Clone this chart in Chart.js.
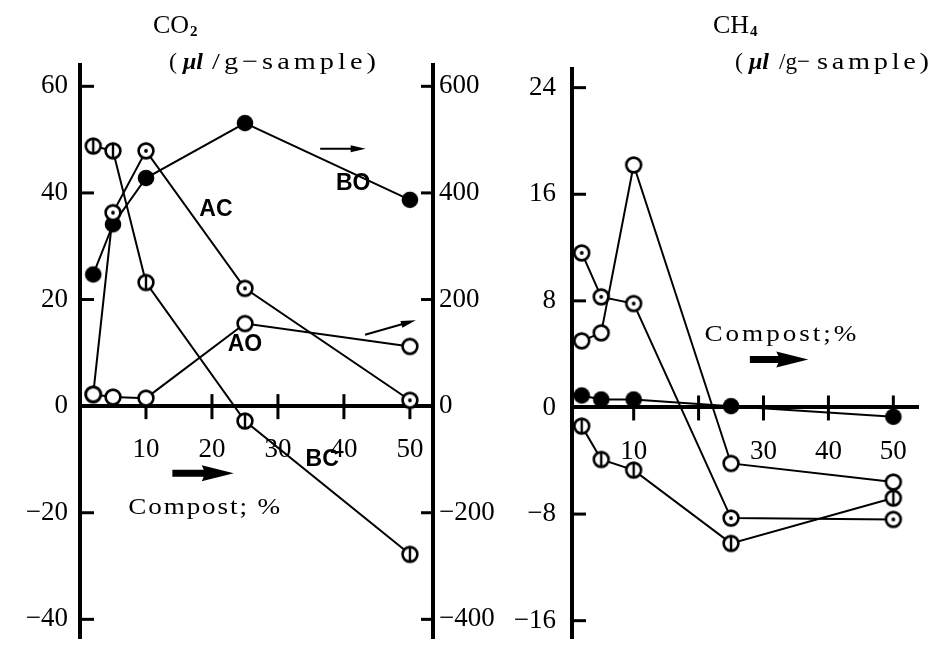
<!DOCTYPE html>
<html>
<head>
<meta charset="utf-8">
<script src="https://cdn.jsdelivr.net/npm/chart.js@4.4.1/dist/chart.umd.min.js"></script>
<style>
  body { margin:0; background:#fff; width:928px; height:648px; overflow:hidden; position:relative; }
  canvas { position:absolute; top:0; }
  #co2 { left:0; }
  #ch4 { left:495px; }
</style>
</head>
<body>
<canvas id="co2" width="525" height="648"></canvas>
<canvas id="ch4" width="433" height="648"></canvas>
<script>
// compost %, same for every series
var compost = [2, 5, 10, 25, 50];

// CO2, left axis (ul/g-sample)
var co2AC = [2.2, 36.3, 47.9, 22.1, 1.1];
var co2BC = [48.8, 47.9, 23.2, -2.8, -27.8];
// CO2, right axis
var co2AO = [22, 17, 15, 155, 112];
var co2BO = [247, 341, 428, 531, 387];

// CH4
var ch4AC = [11.6, 8.3, 7.8, -8.3, -8.4];
var ch4AO = [5.0, 5.6, 18.2, -4.2, -5.6];
var ch4BC = [-1.4, -3.9, -4.7, -10.2, -6.8];
var ch4BO = [0.9, 0.6, 0.6, 0.1, -0.7];

// tick labels
var co2Ticks = [-40, -20, 0, 20, 40, 60];
var co2RightTicks = [-400, -200, 0, 200, 400, 600];
var ch4Ticks = [-16, -8, 0, 8, 16, 24];
var xTicks = [10, 20, 30, 40, 50];

var SERIF = '"Liberation Serif", "DejaVu Serif", serif';
var SANS = '"Liberation Sans", Arial, sans-serif';

function marker(kind) {
  var c = document.createElement('canvas');
  c.width = 22; c.height = 22;
  var g = c.getContext('2d');
  g.beginPath();
  g.arc(11, 11, kind == 'filled' ? 8.3 : 7.4, 0, Math.PI * 2);
  g.fillStyle = kind == 'filled' ? '#000' : '#fff';
  g.fill();
  g.lineWidth = 2.6; g.strokeStyle = '#000';
  if (kind != 'filled') g.stroke();
  if (kind == 'dot') {
    g.beginPath(); g.arc(11, 11, 1.9, 0, Math.PI * 2);
    g.fillStyle = '#000'; g.fill();
  }
  if (kind == 'bar') {
    g.beginPath(); g.moveTo(11, 3.5); g.lineTo(11, 18.5);
    g.lineWidth = 2.4; g.stroke();
  }
  return c;
}

function series(ys, kind, axis) {
  return {
    data: compost.map(function (x, i) { return { x: x, y: ys[i] }; }),
    yAxisID: axis,
    borderColor: '#000',
    borderWidth: 2,
    pointStyle: marker(kind),
    pointRadius: 8,
    pointHoverRadius: 8,
    tension: 0,
    fill: false,
    clip: false
  };
}

function minus(v) { return v < 0 ? '\u2212' + Math.abs(v) : String(v); }

function noPad(s) { s.paddingTop = 0; s.paddingBottom = 0; s.paddingLeft = 0; s.paddingRight = 0; }

function setTicks(list) {
  return function (s) { s.ticks = list.map(function (v) { return { value: v }; }); };
}

// the scan's latin glyphs are wide: stretch a bit, then space out the rest
function fitText(ctx, text, x, y, width) {
  ctx.letterSpacing = '0px';
  var w = ctx.measureText(text).width;
  var n = Array.from(text).length;
  var k = Math.min(width / w, 1.18);
  var ls = n > 1 ? (width / k - w) / (n - 1) : 0;
  ctx.save();
  ctx.translate(x, y); ctx.scale(k, 1);
  ctx.letterSpacing = ls + 'px';
  ctx.fillText(text, 0, 0);
  ctx.restore();
  ctx.letterSpacing = '0px';
}

function thinArrow(ctx, x1, y1, x2, y2) {
  var a = Math.atan2(y2 - y1, x2 - x1);
  var len = Math.hypot(x2 - x1, y2 - y1);
  ctx.save();
  ctx.translate(x2, y2); ctx.rotate(a);
  ctx.beginPath(); ctx.moveTo(-len, 0); ctx.lineTo(-10, 0);
  ctx.lineWidth = 2; ctx.stroke();
  ctx.beginPath(); ctx.moveTo(0, 0); ctx.lineTo(-15, -3.5); ctx.lineTo(-15, 3.5); ctx.closePath(); ctx.fill();
  ctx.restore();
}

function thickArrow(ctx, x1, x2, y) {
  ctx.beginPath();
  ctx.moveTo(x1, y - 3.5);
  ctx.lineTo(x2 - 30, y - 3.5);
  ctx.lineTo(x2 - 32, y - 8);
  ctx.lineTo(x2, y);
  ctx.lineTo(x2 - 32, y + 8);
  ctx.lineTo(x2 - 30, y + 3.5);
  ctx.lineTo(x1, y + 3.5);
  ctx.closePath();
  ctx.fill();
}

// chemical formula with a small bold subscript
function formula(ctx, main, sub, x, y) {
  ctx.font = '26px ' + SERIF;
  ctx.fillText(main, x, y);
  var w = ctx.measureText(main).width;
  ctx.font = 'bold 15px ' + SERIF;
  ctx.fillText(sub, x + w + 1, y + 3);
}

// inward tick marks (chart.js only draws them outward)
var tickMarks = {
  id: 'tickMarks',
  beforeDatasetsDraw: function (chart) {
    var ctx = chart.ctx, ca = chart.chartArea;
    ctx.save();
    ctx.strokeStyle = '#000'; ctx.lineWidth = 3;
    var sy = chart.scales.y, sx = chart.scales.x;
    var y0 = sy.getPixelForValue(0);
    sy.ticks.forEach(function (t) {
      var p = sy.getPixelForValue(t.value);
      ctx.beginPath(); ctx.moveTo(ca.left, p); ctx.lineTo(ca.left + 14, p); ctx.stroke();
    });
    if (chart.scales.y2) {
      var s2 = chart.scales.y2;
      s2.ticks.forEach(function (t) {
        var p = s2.getPixelForValue(t.value);
        ctx.beginPath(); ctx.moveTo(ca.right - 12, p); ctx.lineTo(ca.right, p); ctx.stroke();
      });
    }
    sx.ticks.forEach(function (t) {
      var p = sx.getPixelForValue(t.value);
      ctx.beginPath(); ctx.moveTo(p, y0 - 12); ctx.lineTo(p, y0 + 13); ctx.stroke();
    });
    ctx.restore();
  }
};

var co2Notes = {
  id: 'co2Notes',
  afterDraw: function (chart) {
    var ctx = chart.ctx, sx = chart.scales.x, sy = chart.scales.y;
    function X(v) { return sx.getPixelForValue(v); }
    function Y(v) { return sy.getPixelForValue(v); }
    ctx.save();
    ctx.fillStyle = '#000'; ctx.strokeStyle = '#000';
    ctx.textBaseline = 'alphabetic';
    // title
    formula(ctx, 'CO', '2', 153, 33);
    ctx.font = '24px ' + SERIF;
    ctx.fillText('(', 169, 69);
    ctx.font = 'italic bold 24px ' + SERIF;
    ctx.fillText('\u03bcl', 183, 69);
    ctx.font = '24px ' + SERIF;
    fitText(ctx, '/g\u2212sample)', 212, 69, 164);
    // series labels
    ctx.font = 'bold 23px ' + SANS;
    ctx.textAlign = 'center'; ctx.textBaseline = 'middle';
    ctx.fillText('AC', X(20.6), Y(36.9));
    ctx.fillText('BO', X(41.4), Y(41.7));
    ctx.fillText('AO', X(25.0), Y(11.6));
    ctx.fillText('BC', X(36.7), Y(-10.0));
    // arrows to the right axis
    thinArrow(ctx, X(36.4), Y(48.3), X(43.3), Y(48.3));
    thinArrow(ctx, X(43.2), Y(13.4), X(50.9), Y(16.1));
    thickArrow(ctx, X(14.0), X(23.3), Y(-12.6));
    ctx.textAlign = 'left'; ctx.textBaseline = 'alphabetic';
    ctx.font = '23px ' + SERIF;
    fitText(ctx, 'Compost; %', X(7.3), Y(-20.2), 152);
    ctx.restore();
  }
};

var ch4Notes = {
  id: 'ch4Notes',
  afterDraw: function (chart) {
    var ctx = chart.ctx, sx = chart.scales.x, sy = chart.scales.y;
    function X(v) { return sx.getPixelForValue(v); }
    function Y(v) { return sy.getPixelForValue(v); }
    var off = 495;
    ctx.save();
    ctx.fillStyle = '#000';
    formula(ctx, 'CH', '4', 713 - off, 33);
    ctx.font = '24px ' + SERIF;
    ctx.fillText('(', 735 - off, 69);
    ctx.font = 'italic bold 24px ' + SERIF;
    ctx.fillText('\u03bcl', 749 - off, 69);
    ctx.font = '24px ' + SERIF;
    fitText(ctx, '/g\u2212', 779 - off, 69, 31);
    fitText(ctx, 'sample)', 817 - off, 69, 112);
    thickArrow(ctx, X(27.9), X(36.9), Y(3.6));
    ctx.font = '23px ' + SERIF;
    fitText(ctx, 'Compost;%', X(20.9), Y(5.0), 152);
    ctx.restore();
  }
};

var tickFont = { family: SERIF, size: 27 };

new Chart(document.getElementById('co2'), {
  type: 'line',
  data: {
    datasets: [
      series(co2AO, 'open', 'y2'),
      series(co2BC, 'bar', 'y'),
      series(co2AC, 'dot', 'y'),
      series(co2BO, 'filled', 'y2')
    ]
  },
  options: {
    responsive: false,
    animation: false,
    events: [],
    layout: { padding: { top: 65, bottom: 0, left: 0, right: 0 } },
    plugins: { legend: { display: false }, tooltip: { enabled: false } },
    scales: {
      x: {
        type: 'linear', min: 0, max: 53.5,
        position: { y: 0 },
        afterBuildTicks: setTicks(xTicks),
        afterFit: noPad,
        grid: { display: false, drawTicks: false },
        border: { display: true, width: 4, color: '#000' },
        ticks: { font: tickFont, color: '#000', padding: 28, maxRotation: 0, autoSkip: false,
                 callback: function (v) { return String(v); } }
      },
      y: {
        position: 'left', min: -43.5, max: 64,
        afterBuildTicks: setTicks(co2Ticks),
        afterFit: function (s) { s.width = 80; noPad(s); },
        grid: { display: false, drawTicks: false },
        border: { display: true, width: 4, color: '#000' },
        ticks: { font: tickFont, color: '#000', padding: 12, callback: minus }
      },
      y2: {
        position: 'right', min: -435, max: 640,
        afterBuildTicks: setTicks(co2RightTicks),
        afterFit: function (s) { s.width = 92; noPad(s); },
        grid: { display: false, drawTicks: false },
        border: { display: true, width: 4, color: '#000' },
        ticks: { font: tickFont, color: '#000', padding: 6, callback: minus }
      }
    }
  },
  plugins: [tickMarks, co2Notes]
});

new Chart(document.getElementById('ch4'), {
  type: 'line',
  data: {
    datasets: [
      series(ch4AO, 'open', 'y'),
      series(ch4AC, 'dot', 'y'),
      series(ch4BC, 'bar', 'y'),
      series(ch4BO, 'filled', 'y')
    ]
  },
  options: {
    responsive: false,
    animation: false,
    events: [],
    layout: { padding: { top: 69, bottom: 0, left: 0, right: 0 } },
    plugins: { legend: { display: false }, tooltip: { enabled: false } },
    scales: {
      x: {
        type: 'linear', min: 0.5, max: 53.8,
        position: { y: 0 },
        afterBuildTicks: setTicks(xTicks),
        afterFit: noPad,
        grid: { display: false, drawTicks: false },
        border: { display: true, width: 4, color: '#000' },
        // the 20 label is hidden under the lines in the original
        ticks: { font: tickFont, color: '#000', padding: 28, maxRotation: 0, autoSkip: false,
                 callback: function (v) { return v == 20 ? '' : String(v); } }
      },
      y: {
        position: 'left', min: -17.3, max: 25.4,
        afterBuildTicks: setTicks(ch4Ticks),
        afterFit: function (s) { s.width = 77; noPad(s); },
        grid: { display: false, drawTicks: false },
        border: { display: true, width: 4, color: '#000' },
        ticks: { font: tickFont, color: '#000', padding: 16, callback: minus }
      }
    }
  },
  plugins: [tickMarks, ch4Notes]
});
</script>
</body>
</html>
